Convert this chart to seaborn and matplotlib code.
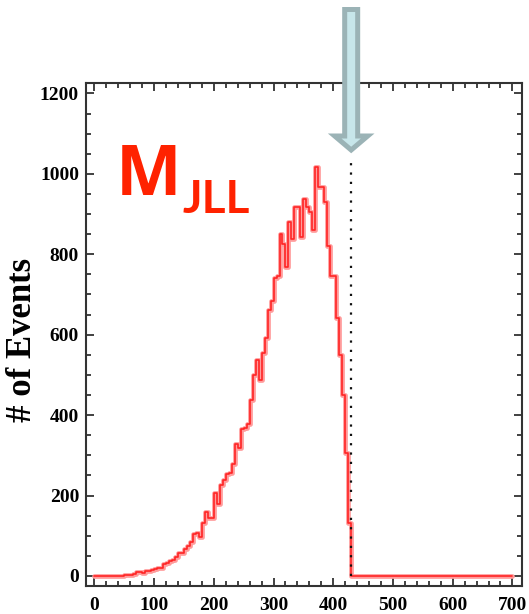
import numpy as np
import matplotlib
matplotlib.use("Agg")
import matplotlib.pyplot as plt
import seaborn as sns
from matplotlib.patches import Polygon
from matplotlib.ticker import MultipleLocator

# ---- data ----
bin_width = 5
bin_lefts = list(range(0, 700, bin_width))
counts = [
    0, 0, 0, 0, 0, 0, 0, 0, 1, 1,
    2, 2, 3, 4, 11, 10, 8, 12, 13, 15,
    17, 19, 20, 30, 33, 37, 40, 46, 56, 58,
    66, 74, 85, 105, 108, 98, 131, 160, 143, 145,
    206, 179, 225, 239, 254, 256, 279, 328, 318, 365,
    368, 377, 438, 500, 537, 488, 555, 592, 662, 685,
    740, 746, 850, 826, 768, 880, 838, 917, 917, 843,
    938, 917, 906, 861, 1018, 968, 968, 929, 821, 746,
    746, 641, 550, 450, 305, 131,
    0, 0, 0, 0, 0, 0, 0, 0, 0, 0,
    0, 0, 0, 0, 0, 0, 0, 0, 0, 0,
    0, 0, 0, 0, 0, 0, 0, 0, 0, 0,
    0, 0, 0, 0, 0, 0, 0, 0, 0, 0,
    0, 0, 0, 0, 0, 0, 0, 0, 0, 0,
    0, 0, 0, 0,
]
cut_value = 430
cut_line_top = 1042
x_ticks = [0, 100, 200, 300, 400, 500, 600, 700]
y_ticks = [0, 200, 400, 600, 800, 1000, 1200]
y_label = "# of Events"
title_main = "M"
title_sub = "JLL"

# ---- style ----
sns.set_style("ticks")
plt.rcParams['font.family'] = ['Liberation Serif', 'DejaVu Serif']
plt.rcParams['font.weight'] = 'bold'

W, H = 529, 614
fig = plt.figure(figsize=(W / 100, H / 100), dpi=100)
ax = fig.add_axes([86 / W, 1 - 586 / H, 436 / W, 503 / H])

edges = bin_lefts + [bin_lefts[-1] + bin_width]
centers = [b + bin_width / 2 for b in bin_lefts]

sns.histplot(x=centers, weights=counts, bins=edges, element="step", fill=False,
             color="#ff9c9c", linewidth=3.4, ax=ax)
sns.histplot(x=centers, weights=counts, bins=edges, element="step", fill=False,
             color="#ff2424", linewidth=1.2, ax=ax)

ax.plot([cut_value, cut_value], [0, cut_line_top], color="#111111",
        linestyle=(0, (1, 3.2)), linewidth=1.6, zorder=5)

ax.set_xlim(-14, 716)
ax.set_ylim(-25, 1226)
ax.set_xticks(x_ticks)
ax.set_yticks(y_ticks)
ax.xaxis.set_minor_locator(MultipleLocator(20))
ax.yaxis.set_minor_locator(MultipleLocator(50))
ax.tick_params(which="both", direction="in", top=True, right=True,
               color="#333333", width=1.3, labelcolor="black")
ax.tick_params(which="major", length=6, labelsize=14)
ax.tick_params(axis="x", which="major", pad=8)
ax.tick_params(axis="y", which="major", pad=5)
ax.tick_params(which="minor", length=3.5)
for lab in ax.get_xticklabels() + ax.get_yticklabels():
    lab.set_fontweight("bold")
for sp in ax.spines.values():
    sp.set_color("#333333")
    sp.set_linewidth(1.5)

ax.set_xlabel("")
ax.set_ylabel(y_label, fontsize=25, fontweight="bold", color="black")
ax.yaxis.set_label_coords(-0.108, 0.489)

# title text
fig.text(116 / W, 1 - 195 / H, title_main, color="#ff2200", fontsize=50,
         fontweight="bold", family=["Open Sans", "DejaVu Sans"],
         ha="left", va="baseline")
fig.text(183 / W, 1 - 213 / H, title_sub, color="#ff2200", fontsize=33,
         fontweight="bold", family=["Lato", "DejaVu Sans"],
         ha="left", va="baseline")

# arrow
fig.canvas.draw()
cx = ax.transData.transform((cut_value, 0))[0]
verts_px = [(cx - 6.5, 9.5), (cx + 6.5, 9.5), (cx + 6.5, 136), (cx + 16.5, 136),
            (cx, 150), (cx - 16.5, 136), (cx - 6.5, 136)]
verts = [(v[0] / W, 1 - v[1] / H) for v in verts_px]
arrow = Polygon(verts, closed=True, transform=fig.transFigure,
                facecolor="#c7e6ea", edgecolor="#9bb3b6", linewidth=3.6,
                joinstyle="miter", zorder=10)
fig.add_artist(arrow)

fig.savefig("out.png", dpi=100, facecolor="white")
